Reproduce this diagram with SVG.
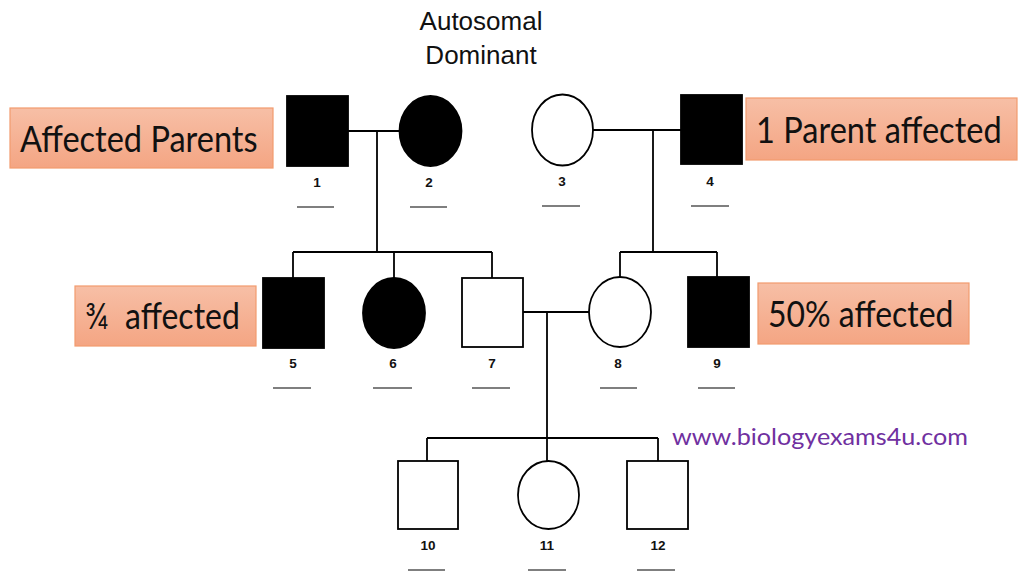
<svg xmlns="http://www.w3.org/2000/svg" width="1024" height="575" viewBox="0 0 1024 575">
<defs>
<linearGradient id="boxg" x1="0" y1="0" x2="0" y2="1">
<stop offset="0" stop-color="#F7BFA6"/>
<stop offset="1" stop-color="#F4A583"/>
</linearGradient>
</defs>
<style>
.bg{fill:#FFFFFF}
.aff{fill:#000000;stroke:#000000;stroke-width:1.8}
.un{fill:#FFFFFF;stroke:#000000;stroke-width:1.8}
.ln{stroke:#000000;stroke-width:1.8;fill:none}
.ul{stroke:#000000;stroke-width:1.2;fill:none}
.num{font-family:"Liberation Sans",Arial,sans-serif;font-size:13.5px;font-weight:bold;fill:#111111;text-anchor:middle}
.title{font-family:"Liberation Sans",Arial,sans-serif;font-size:26px;fill:#111111;text-anchor:middle}
.box{fill:url(#boxg);stroke:#F29B6E;stroke-width:1.2}
.lbl{font-family:Lato,"Open Sans",sans-serif;font-size:37px;fill:#111111;white-space:pre}
.web{font-family:Lato,"Open Sans",sans-serif;font-size:23px;fill:#7030A0}
</style>
<rect class="bg" x="0" y="0" width="1024" height="575"/>
<g id="title">
<text class="title" x="481" y="30">Autosomal</text>
<text class="title" x="481" y="64">Dominant</text>
</g>
<g id="connectors">
<line class="ln" x1="348" y1="131" x2="399" y2="131"/>
<line class="ln" x1="377" y1="131" x2="377" y2="252"/>
<line class="ln" x1="293" y1="252" x2="492" y2="252"/>
<line class="ln" x1="293" y1="252" x2="293" y2="278"/>
<line class="ln" x1="394" y1="252" x2="394" y2="278"/>
<line class="ln" x1="492" y1="252" x2="492" y2="278"/>
<line class="ln" x1="593" y1="130" x2="681" y2="130"/>
<line class="ln" x1="653" y1="130" x2="653" y2="252"/>
<line class="ln" x1="620" y1="252" x2="717" y2="252"/>
<line class="ln" x1="620" y1="252" x2="620" y2="277"/>
<line class="ln" x1="717" y1="252" x2="717" y2="277"/>
<line class="ln" x1="523" y1="312" x2="589" y2="312"/>
<line class="ln" x1="547" y1="312" x2="547" y2="461"/>
<line class="ln" x1="427" y1="438" x2="658" y2="438"/>
<line class="ln" x1="427" y1="438" x2="427" y2="461"/>
<line class="ln" x1="658" y1="438" x2="658" y2="461"/>
</g>
<g id="n1"><rect class="aff" x="287" y="96" width="61" height="70"/><text class="num" x="317" y="187">1</text><line class="ul" x1="297" y1="207" x2="334" y2="207"/></g>
<g id="n2"><ellipse class="aff" cx="430.5" cy="131" rx="31" ry="35"/><text class="num" x="429" y="187">2</text><line class="ul" x1="410" y1="207" x2="447" y2="207"/></g>
<g id="n3"><ellipse class="un" cx="562.5" cy="130" rx="30.5" ry="35.5"/><text class="num" x="562" y="186">3</text><line class="ul" x1="542" y1="206" x2="580" y2="206"/></g>
<g id="n4"><rect class="aff" x="681" y="95" width="61" height="69"/><text class="num" x="710" y="186">4</text><line class="ul" x1="691" y1="206" x2="729" y2="206"/></g>
<g id="n5"><rect class="aff" x="263" y="278" width="61" height="70"/><text class="num" x="293" y="368">5</text><line class="ul" x1="273" y1="388" x2="311" y2="388"/></g>
<g id="n6"><ellipse class="aff" cx="394" cy="313" rx="31" ry="35"/><text class="num" x="393" y="368">6</text><line class="ul" x1="373" y1="388" x2="412" y2="388"/></g>
<g id="n7"><rect class="un" x="462" y="278" width="61" height="69"/><text class="num" x="492" y="368">7</text><line class="ul" x1="472" y1="388" x2="510" y2="388"/></g>
<g id="n8"><ellipse class="un" cx="620" cy="312" rx="31" ry="35"/><text class="num" x="618" y="368">8</text><line class="ul" x1="600" y1="388" x2="637" y2="388"/></g>
<g id="n9"><rect class="aff" x="688" y="277" width="61" height="70"/><text class="num" x="717" y="368">9</text><line class="ul" x1="698" y1="388" x2="735" y2="388"/></g>
<g id="n10"><rect class="un" x="398" y="461" width="60" height="68"/><text class="num" x="428" y="550">10</text><line class="ul" x1="408" y1="570" x2="445" y2="570"/></g>
<g id="n11"><ellipse class="un" cx="548.5" cy="495" rx="30.5" ry="34"/><text class="num" x="547" y="550">11</text><line class="ul" x1="528" y1="570" x2="566" y2="570"/></g>
<g id="n12"><rect class="un" x="627" y="461" width="61" height="68"/><text class="num" x="658" y="550">12</text><line class="ul" x1="637" y1="570" x2="675" y2="570"/></g>
<g id="label-affected-parents"><rect class="box" x="10" y="108" width="263" height="60"/><text class="lbl" transform="translate(20,152) scale(0.9,1)" x="0" y="0" textLength="264" lengthAdjust="spacingAndGlyphs">Affected Parents</text></g>
<g id="label-1-parent"><rect class="box" x="746" y="98" width="271" height="62"/><text class="lbl" transform="translate(756,143) scale(0.9,1)" x="0" y="0" textLength="273" lengthAdjust="spacingAndGlyphs">1 Parent affected</text></g>
<g id="label-three-quarters"><rect class="box" x="75" y="286" width="181" height="60"/><text class="lbl" transform="translate(85,329) scale(0.9,1)" x="0" y="0" textLength="172" lengthAdjust="spacingAndGlyphs" xml:space="preserve">¾  affected</text></g>
<g id="label-50"><rect class="box" x="758" y="283" width="211" height="61"/><text class="lbl" transform="translate(768,327) scale(0.9,1)" x="0" y="0" textLength="206" lengthAdjust="spacingAndGlyphs">50% affected</text></g>
<g id="website"><text class="web" x="672" y="445" textLength="296" lengthAdjust="spacingAndGlyphs">www.biologyexams4u.com</text></g>
</svg>
